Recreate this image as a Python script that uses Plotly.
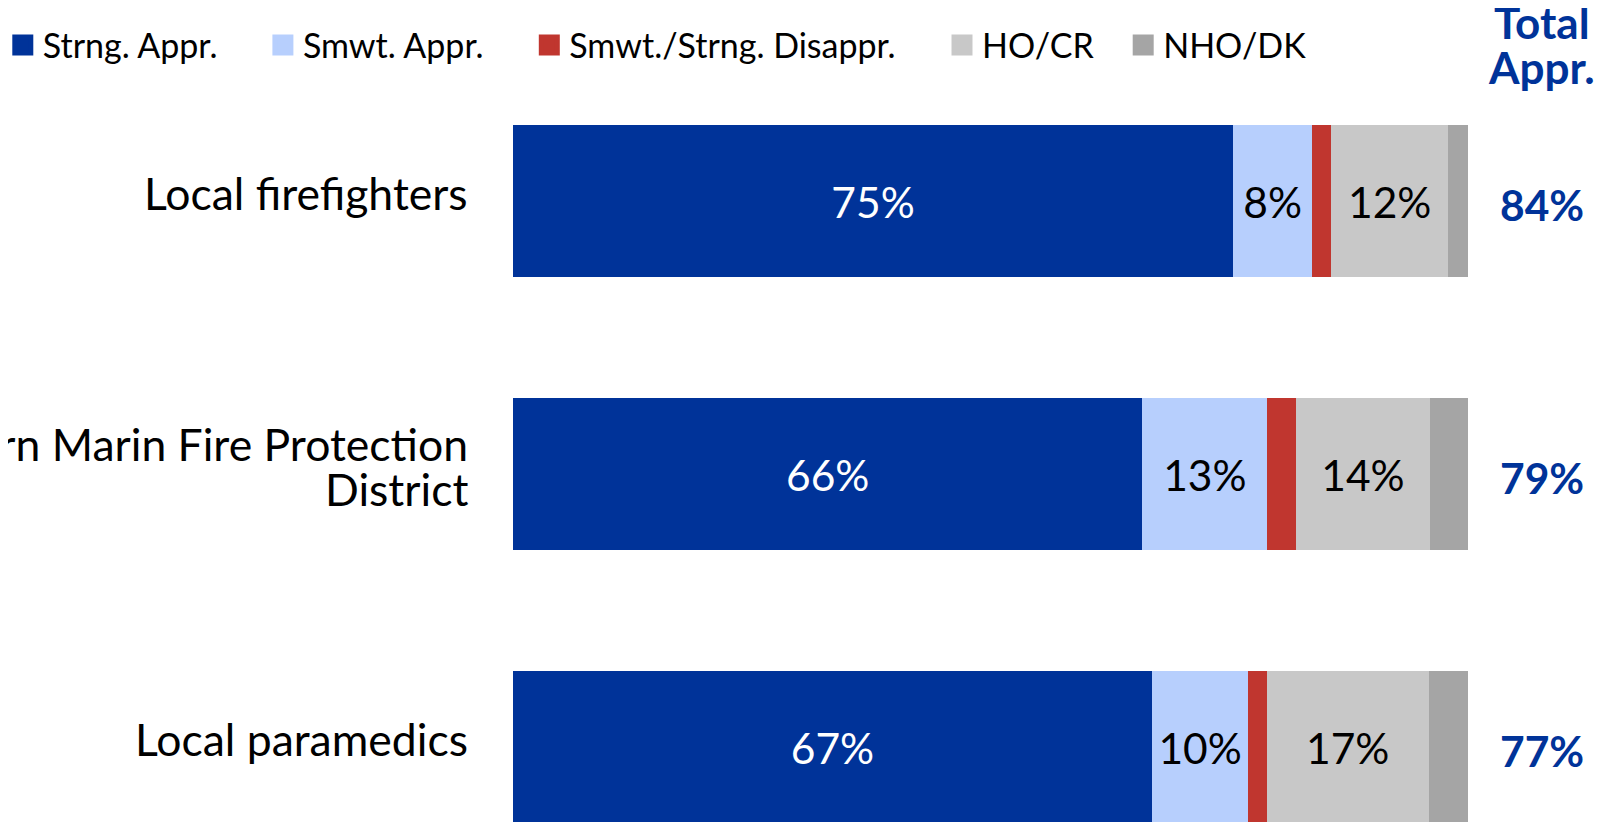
import plotly.graph_objects as go

categories = ['Local firefighters', 'Southern Marin Fire Protection District', 'Local paramedics']
category_lines = [['Local firefighters'], ['Southern Marin Fire Protection', 'District'], ['Local paramedics']]
series_names = ['Strng. Appr.', 'Smwt. Appr.', 'Smwt./Strng. Disappr.', 'HO/CR', 'NHO/DK']
strong_appr = [75.4, 65.9, 66.9]
smwt_appr = [8.3, 13.1, 10.1]
disappr = [2.0, 3.0, 1.9]
ho_cr = [12.2, 14.0, 17.0]
nho_dk = [2.1, 4.0, 4.1]

COLORS = ['#003399', '#b7cffd', '#c0362f', '#c8c8c8', '#a5a5a5']
TEXT_COLORS = ['white', 'black', 'black', 'black', 'black']
SHOW_TEXT = [True, True, False, True, False]
BLUE = '#003399'
FONT = 'Lato'

#page has an 8px body margin, so the figure is 8px smaller than the window
W, H = 1606, 814
X0, PX = 505, 9.55  # pixel of 0% and pixels per percent
Y0, PY = 193, 273   # pixel of first category centre and pixels per category

fig = go.Figure()
for i, (name, vals) in enumerate(zip(series_names, [strong_appr, smwt_appr, disappr, ho_cr, nho_dk])):
  fig.add_trace(go.Bar(
    y = categories, x = vals, orientation = 'h', name = name,
    marker = dict(color = COLORS[i], line = dict(width = 0)),
    text = [f'{round(v)}%' for v in vals] if SHOW_TEXT[i] else None,
    textposition = 'inside', insidetextanchor = 'middle', textangle = 0,
    textfont = dict(family = FONT, size = 42.5, color = TEXT_COLORS[i]),
    showlegend = False, hoverinfo = 'x+name'))
  #legend entries as big squares, one legend each so spacing can follow the original
  fig.add_trace(go.Scatter(
    x = [None], y = [None], mode = 'markers', name = name,
    marker = dict(symbol = 'square', size = 16, color = COLORS[i], line = dict(width = 5, color = COLORS[i])),
    legend = 'legend' if i == 0 else f'legend{i + 1}'))

legend_x = [-5.2, 254.9, 521.3, 934, 1115.2]
for i, lx in enumerate(legend_x):
  key = 'legend' if i == 0 else f'legend{i + 1}'
  fig.update_layout({key: dict(x = lx / W, y = 1 - 37.5 / H, xanchor = 'left', yanchor = 'middle',
                               orientation = 'h', font = dict(family = FONT, size = 34, color = 'black'),
                               bgcolor = 'rgba(0,0,0,0)', itemclick = False)})

#category labels to the left of the bars
for c, lines in zip(categories, category_lines):
  shifts = [9] if len(lines) == 1 else [31, -14]
  for line, shift in zip(lines, shifts):
    fig.add_annotation(x = 462 / W, xref = 'paper', y = c, yref = 'y', yshift = shift, text = line,
                       showarrow = False, xanchor = 'right', yanchor = 'middle',
                       font = dict(family = FONT, size = 44.5, color = 'black'))

#total approve column
totals = [s + m for s, m in zip(strong_appr, smwt_appr)]
for c, t in zip(categories, totals):
  fig.add_annotation(x = 1533.5 / W, xref = 'paper', y = c, yref = 'y', yshift = -3, text = f'<b>{round(t)}%</b>',
                     showarrow = False, xanchor = 'center', yanchor = 'middle',
                     font = dict(family = FONT, size = 42.5, color = BLUE))
for word, ty in [('Total', 14), ('Appr.', 59)]:
  fig.add_annotation(x = 1533.5 / W, xref = 'paper', y = 1 - ty / H, yref = 'paper', text = f'<b>{word}</b>',
                     showarrow = False, xanchor = 'center', yanchor = 'middle',
                     font = dict(family = FONT, size = 44, color = BLUE))

fig.update_layout(
  barmode = 'stack', bargap = 0.443, width = W, height = H,
  margin = dict(l = 0, r = 0, t = 0, b = 0, autoexpand = False),
  plot_bgcolor = 'white', paper_bgcolor = 'white',
  font = dict(family = FONT),
)
fig.update_xaxes(range = [-X0 / PX, (W - X0) / PX], visible = False)
fig.update_yaxes(range = [(H - Y0) / PY, -Y0 / PY], visible = False)

fig.write_html('out.html')
